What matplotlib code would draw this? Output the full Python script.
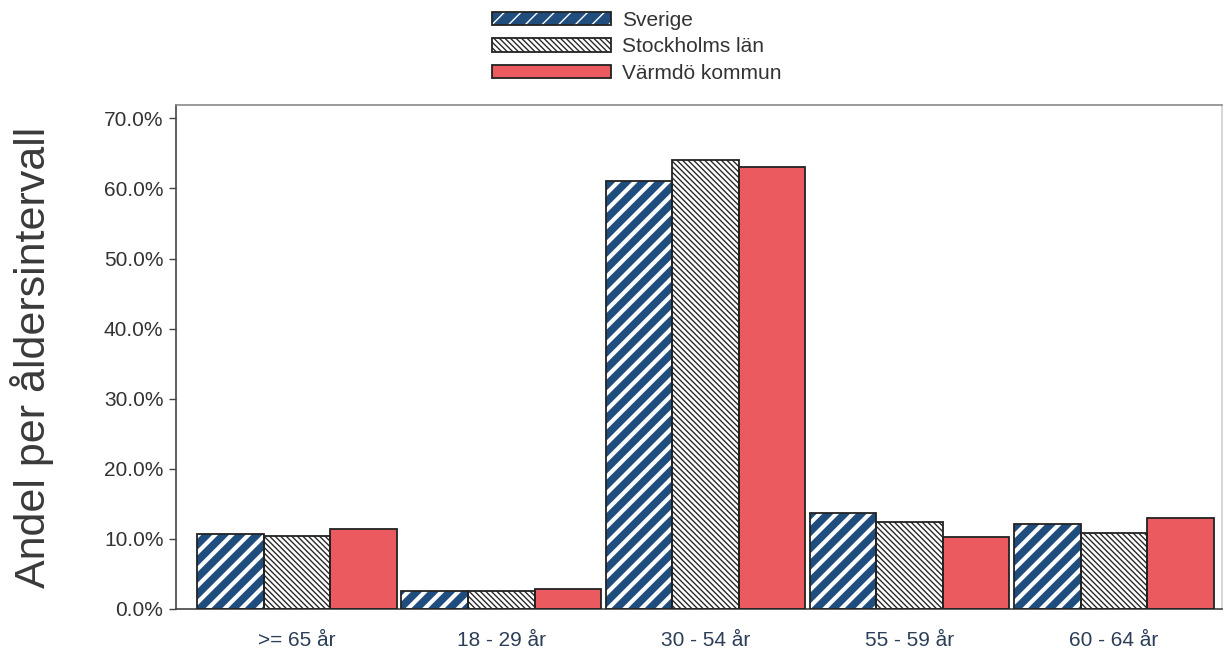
import numpy as np
import matplotlib
matplotlib.use("Agg")
import matplotlib.pyplot as plt
from matplotlib.legend_handler import HandlerTuple
from matplotlib.ticker import FuncFormatter

# --------------------------------------------------------------------------- #
# Data (percent share per age interval)
# --------------------------------------------------------------------------- #
age_groups = [">= 65 år", "18 - 29 år", "30 - 54 år", "55 - 59 år", "60 - 64 år"]
series_names = ["Sverige", "Stockholms län", "Värmdö kommun"]
sverige = [10.7, 2.6, 61.0, 13.7, 12.1]
stockholm = [10.4, 2.6, 64.0, 12.4, 10.8]
varmdo = [11.4, 2.9, 63.0, 10.3, 13.0]
y_ticks = [0, 10, 20, 30, 40, 50, 60, 70]

plt.rcParams["font.family"] = ["Liberation Sans", "DejaVu Sans"]

fig = plt.figure(figsize=(12.26, 6.55), dpi=100)
ax = fig.add_axes([176 / 1226, 46 / 655, 1046 / 1226, 504 / 655])

x = np.arange(len(age_groups))
w = 0.326
edge = "#222222"


def hatched_bars(vals, offset, face, hatch, hatch_col, hatch_lw):
    """Fill layer carrying the hatch, plus an outline layer on top."""
    with plt.rc_context({"hatch.linewidth": hatch_lw}):
        fill = ax.bar(x + offset, vals, w, color=face, edgecolor=hatch_col,
                      hatch=hatch, linewidth=0, zorder=2)
    for p in fill:
        if hasattr(p, "set_hatch_linewidth"):
            p.set_hatch_linewidth(hatch_lw)
    outline = ax.bar(x + offset, vals, w, facecolor="none", edgecolor=edge,
                     linewidth=1.3, zorder=3)
    return fill, outline


sv_fill, sv_out = hatched_bars(sverige, -w, "#1f4d7e", "//", "white", 3.0)
st_fill, st_out = hatched_bars(stockholm, 0.0, "white", "\\\\\\\\\\\\",
                               "#2a2a2a", 1.0)
vm_fill, vm_out = hatched_bars(varmdo, w, "#ea5a5e", None, "#ea5a5e", 1.0)

ax.set_xlim(-0.593, 4.53)
ax.set_ylim(0, 71.9)
ax.set_yticks(y_ticks)
ax.yaxis.set_major_formatter(FuncFormatter(lambda v, _: f"{v:.1f}%"))
ax.tick_params(axis="y", labelsize=15, labelcolor="#333333", length=5,
               width=1.0, color="#444444", pad=4)
ax.set_xticks(x)
ax.set_xticklabels(age_groups)
ax.tick_params(axis="x", labelsize=15, labelcolor="#2c3e58", length=0, pad=16)

ax.set_ylabel("Andel per åldersintervall", fontsize=31, color="#3a3a3a",
              labelpad=36)

ax.spines["left"].set_color("#444444")
ax.spines["bottom"].set_color("#444444")
ax.spines["top"].set_color("#8a8a8a")
ax.spines["right"].set_color("#d0d0d0")
for s in ax.spines.values():
    s.set_linewidth(1.2)

handles = [(sv_fill[0], sv_out[0]), (st_fill[0], st_out[0]),
           (vm_fill[0], vm_out[0])]
fig.legend(handles, series_names,
           handler_map={tuple: HandlerTuple(ndivide=1, pad=0)},
           loc="upper left", bbox_to_anchor=(492 / 1226, 1 - 11 / 655),
           frameon=False, fontsize=15, borderpad=0, borderaxespad=0,
           handlelength=5.7, handleheight=0.6, handletextpad=0.55,
           labelspacing=0.35, labelcolor="#333333")

fig.savefig("out.png", dpi=100)
